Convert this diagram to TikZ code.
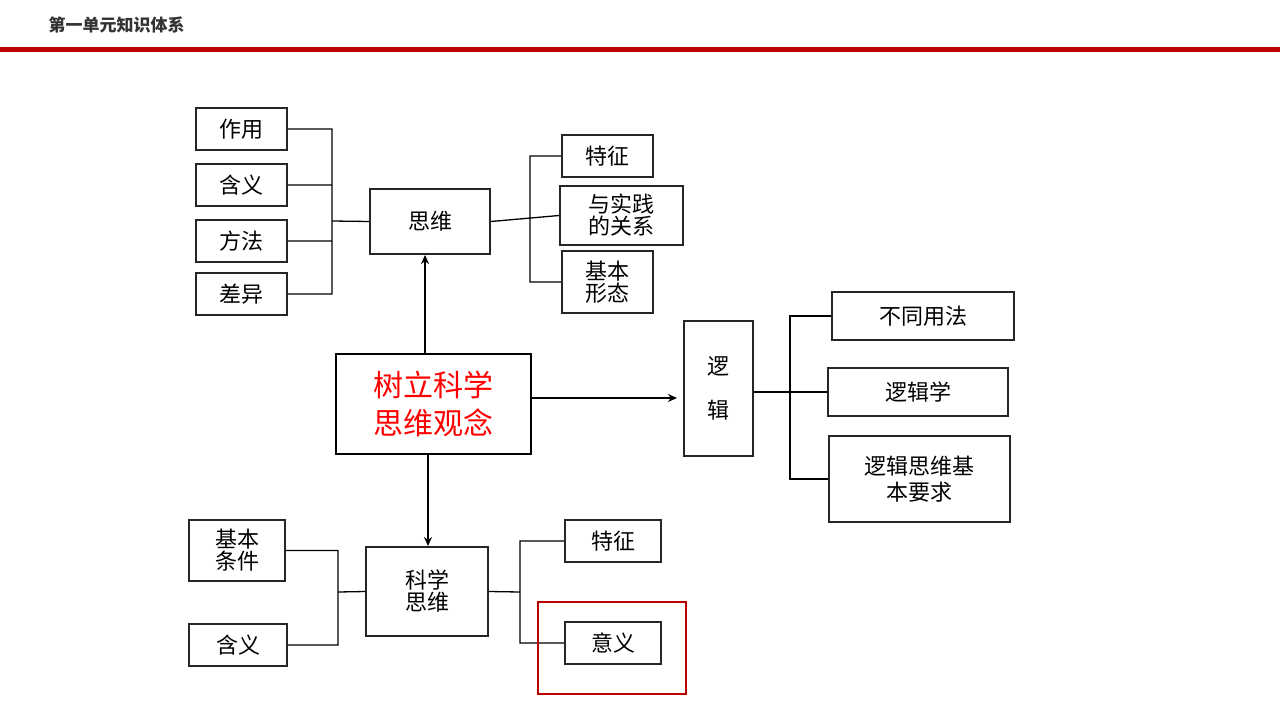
\documentclass[tikz,border=0pt]{standalone}
\usetikzlibrary{arrows.meta}
\usepackage{fontspec}
\newfontfamily\cjk{Noto Sans CJK SC}
\begin{document}
\begin{tikzpicture}[x=1pt,y=-1pt,
 bx/.style={draw=black!85,line width=1.6pt,inner sep=0pt,font=\cjk\fontsize{22}{26}\selectfont,align=center},
 ln/.style={line width=1.3pt},
 ar/.style={line width=1.8pt,-{Stealth[length=9pt,width=8pt]}}]
\useasboundingbox (0,0) rectangle (1280,720);
\node[anchor=west,font=\cjk\bfseries\fontsize{17}{20}\selectfont,text=black!80] (title) at (45,25) {第一单元知识体系};
\fill[red!75!black] (0,47) rectangle (1280,52);
\newcommand\bxat[4]{\node[bx,minimum width=#3-#1,minimum height=#4-#2] at ({(#1+#3)/2},{(#2+#4)/2})}
% top
\bxat{196}{108}{287}{150} (a1) {作用};
\bxat{196}{164}{287}{206} (a2) {含义};
\bxat{196}{220}{287}{262} (a3) {方法};
\bxat{196}{273}{287}{315} (a4) {差异};
\bxat{370}{189}{490}{254} (sw) {思维};
\bxat{562}{135}{653}{177} (b1) {特征};
\bxat{560}{186}{683}{245} (b2) {与实践\\[-4pt]的关系};
\bxat{562}{251}{653}{313} (b3) {基本\\[-4pt]形态};
\coordinate (lb) at (332,221); \coordinate (rb) at (530,221);
\draw[ln] (a1.east) -| (lb) (a2.east) -| (lb) (a3.east) -| (lb) (a4.east) -| (lb) (lb) -- (sw.west);
\draw[ln] (sw.east) -- (b2.west) (b1.west) -| (rb) (b3.west) -| (rb);
% center
\node[draw,line width=2.2pt,minimum width=195,minimum height=100,inner sep=0pt,align=center,text=red,font=\cjk\fontsize{30}{38}\selectfont] (c) at (433.5,404) {树立科学\\思维观念};
\coordinate (c1) at (425,354); \coordinate (s1) at (425,255);
\coordinate (c2) at (531,398); \coordinate (l1) at (677,398);
\coordinate (c3) at (428,454); \coordinate (k1) at (428,546);
\draw[ar] (c1) -- (s1);
\draw[ar] (c2) -- (l1);
\draw[ar] (c3) -- (k1);
% logic
\bxat{684}{321}{753}{456} (lj) {逻\\[18pt]辑};
\bxat{832}{292}{1014}{340} (d1) {不同用法};
\bxat{828}{368}{1008}{416} (d2) {逻辑学};
\bxat{829}{436}{1010}{522} (d3) {逻辑思维基\\本要求};
\coordinate (lj0) at (753,392); \coordinate (db) at (790,392);
\draw[ln] (lj0) -- (d2.west) (d1.west) -| (db) (d3.west) -| (db);
% bottom
\bxat{366}{547}{488}{636} (kx) {科学\\[-4pt]思维};
\bxat{189}{520}{285}{581} (e1) {基本\\[-4pt]条件};
\bxat{189}{624}{287}{666} (e2) {含义};
\bxat{565}{520}{661}{562} (f1) {特征};
\bxat{565}{622}{661}{664} (f2) {意义};
\coordinate (eb) at (338,592); \coordinate (fb) at (520,592);
\draw[ln] (e1.east) -| (eb) (e2.east) -| (eb) (eb) -- (kx.west);
\draw[ln] (kx.east) -- (fb) (f1.west) -| (fb) (f2.west) -| (fb);
\draw[red!75!black,line width=1.8pt] (538,602) rectangle (686,694);
\end{tikzpicture}
\end{document}
